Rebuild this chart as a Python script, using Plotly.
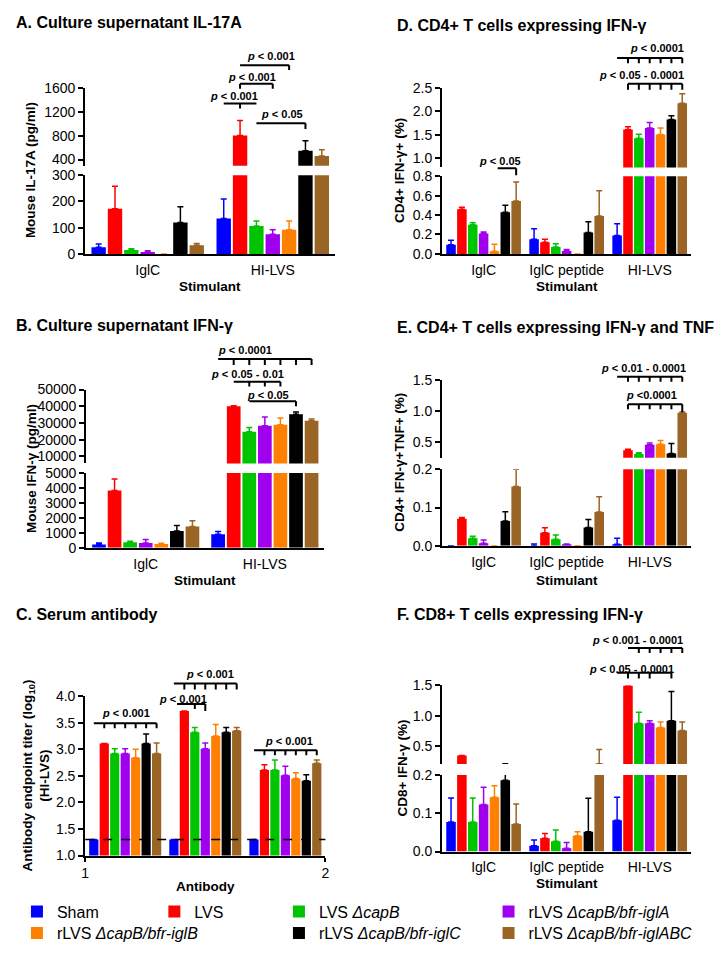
import plotly.graph_objects as go

# ---------------- data ----------------
SERIES = ["Sham", "LVS", "LVS ΔcapB", "rLVS ΔcapB/bfr-iglA", "rLVS ΔcapB/bfr-iglB",
          "rLVS ΔcapB/bfr-iglC", "rLVS ΔcapB/bfr-iglABC"]
LEGEND_LABELS = ["Sham", "LVS", "LVS <i>ΔcapB</i>", "rLVS <i>ΔcapB/bfr-iglA</i>",
                 "rLVS <i>ΔcapB/bfr-iglB</i>", "rLVS <i>ΔcapB/bfr-iglC</i>",
                 "rLVS <i>ΔcapB/bfr-iglABC</i>"]
COLORS = ["#0000FF", "#FF0000", "#00C400", "#A000EE", "#FF8000", "#000000", "#9A6424"]

STIM2 = ["IglC", "HI-LVS"]
STIM3 = ["IglC", "IglC peptide", "HI-LVS"]
ANTIBODY_GROUPS = ["Antibody group 1", "Antibody group 2", "Antibody group 3"]
ANTIBODY_TICKS = ["1", "2"]

# A. IL-17A (pg/ml), mean and upper SEM, order = SERIES
A_IGLC = [25, 172, 15, 7, 0, 120, 33]
A_IGLC_SEM = [13, 86, 5, 5, None, 60, 7]
A_HILVS = [135, 800, 106, 75, 92, 547, 460]
A_HILVS_SEM = [74, 252, 19, 17, 33, 168, 103]

# B. IFN-gamma (pg/ml)
B_IGLC = [230, 3840, 370, 330, 250, 1120, 1430]
B_IGLC_SEM = [100, 760, 70, 220, 50, 370, 390]
B_HILVS = [900, 40000, 24800, 28300, 28900, 35200, 31300]
B_HILVS_SEM = [200, 300, 2500, 5300, 4000, 1400, 1000]

# C. Serum antibody titer (log10)
C_AB1 = [1.3, 3.11, 2.92, 2.92, 2.84, 3.11, 2.92]
C_AB1_SEM = [None, None, 0.09, 0.09, 0.16, 0.18, 0.20]
C_AB2 = [1.3, 3.72, 3.32, 3.01, 3.25, 3.32, 3.35]
C_AB2_SEM = [None, None, 0.09, 0.11, 0.22, 0.09, 0.06]
C_AB3 = [1.3, 2.61, 2.61, 2.51, 2.45, 2.41, 2.74]
C_AB3_SEM = [None, 0.10, 0.19, 0.17, 0.11, 0.11, 0.06]
C_DETECTION_LIMIT = 1.3

# D. CD4+ IFN-g+ (%)
D_IGLC = [0.094, 0.46, 0.30, 0.21, 0.027, 0.43, 0.545]
D_IGLC_SEM = [0.046, 0.02, 0.02, 0.015, 0.073, 0.07, 0.195]
D_PEP = [0.15, 0.12, 0.07, 0.03, 0, 0.22, 0.39]
D_PEP_SEM = [0.11, 0.03, 0.035, 0.015, None, 0.11, 0.26]
D_HILVS = [0.19, 1.61, 1.42, 1.64, 1.50, 1.82, 2.17]
D_HILVS_SEM = [0.12, 0.055, 0.09, 0.12, 0.14, 0.08, 0.20]

# E. CD4+ IFN-g+ TNF+ (%)
E_IGLC = [0, 0.071, 0.02, 0.007, 0, 0.065, 0.155]
E_IGLC_SEM = [None, 0.003, 0.005, 0.008, None, 0.024, 0.045]
E_PEP = [0, 0.034, 0.017, 0.004, 0, 0.048, 0.088]
E_PEP_SEM = [0.005, 0.013, 0.011, 0.001, None, 0.021, 0.040]
E_HILVS = [0.004, 0.36, 0.30, 0.45, 0.46, 0.31, 0.965]
E_HILVS_SEM = [0.016, 0.017, 0.02, 0.03, 0.06, 0.16, 0.015]

# F. CD8+ IFN-g+ (%)
F_IGLC = [0.077, 0.35, 0.077, 0.123, 0.142, 0.186, 0.072]
F_IGLC_SEM = [0.063, None, 0.063, 0.045, 0.03, 0.028, 0.052]
F_PEP = [0.015, 0.035, 0.027, 0.009, 0.041, 0.052, 0.215]
F_PEP_SEM = [0.015, 0.012, 0.029, 0.015, 0.011, 0.087, 0.235]
F_HILVS = [0.082, 1.5, 0.88, 0.88, 0.81, 0.92, 0.76]
F_HILVS_SEM = [0.06, None, 0.18, 0.04, 0.09, 0.48, 0.14]

# ---------------- layout helpers ----------------
PAGE_W, PAGE_H = 722, 959
BODY_MARGIN = 8  # default page margin around the plot div
W, H = PAGE_W - 2 * BODY_MARGIN, PAGE_H - 2 * BODY_MARGIN
FONT = "Liberation Sans, Arial, sans-serif"
BARGAP = 0.085
NSER = len(SERIES)


def fx(p):
    """page pixel x -> paper fraction"""
    return (p - BODY_MARGIN) / W


def fy(p):
    """page pixel y -> paper fraction"""
    return 1 - (p - BODY_MARGIN) / H


def bar_center(g, k):
    w = 1 - BARGAP
    return g - w / 2 + (k + 0.5) * w / NSER


PANELS = [
    dict(x="x", ylo="y", yhi="y2", cats=STIM2,
         vals=[A_IGLC, A_HILVS], sems=[A_IGLC_SEM, A_HILVS_SEM],
         xdom=(82, 335), lodom=(170, 250), lorange=[0, 300], loticks=[0, 100, 200, 300],
         hidom=(81, 160.4), hirange=[295, 1600], hiticks=[400, 800, 1200, 1600], fmt="d"),
    dict(x="x2", ylo="y3", yhi="y4", cats=STIM2,
         vals=[B_IGLC, B_HILVS], sems=[B_IGLC_SEM, B_HILVS_SEM],
         xdom=(83, 324), lodom=(473, 549), lorange=[0, 5000],
         loticks=[0, 1000, 2000, 3000, 4000, 5000],
         hidom=(388, 463.1), hirange=[5800, 50000],
         hiticks=[10000, 20000, 30000, 40000, 50000], fmt="d"),
    dict(x="x3", ylo="y5", yhi=None, cats=ANTIBODY_GROUPS,
         vals=[C_AB1, C_AB2, C_AB3], sems=[C_AB1_SEM, C_AB2_SEM, C_AB3_SEM],
         xdom=(82, 325), lodom=(700, 862), lorange=[1.0, 4.0],
         loticks=[1.0, 1.5, 2.0, 2.5, 3.0, 3.5, 4.0], fmt=".1f"),
    dict(x="x4", ylo="y6", yhi="y7", cats=STIM3,
         vals=[D_IGLC, D_PEP, D_HILVS], sems=[D_IGLC_SEM, D_PEP_SEM, D_HILVS_SEM],
         xdom=(443, 695), lodom=(171, 250), lorange=[0, 0.8], loticks=[0, 0.2, 0.4, 0.6, 0.8],
         hidom=(81, 162), hirange=[0.8, 2.5], hiticks=[1.0, 1.5, 2.0, 2.5], fmt=".1f"),
    dict(x="x5", ylo="y8", yhi="y9", cats=STIM3,
         vals=[E_IGLC, E_PEP, E_HILVS], sems=[E_IGLC_SEM, E_PEP_SEM, E_HILVS_SEM],
         xdom=(443, 695), lodom=(469, 547), lorange=[0, 0.2], loticks=[0, 0.1, 0.2],
         hidom=(378, 457.4), hirange=[0.24, 1.5], hiticks=[0.5, 1.0, 1.5], fmt=".1f"),
    dict(x="x6", ylo="y10", yhi="y11", cats=STIM3,
         vals=[F_IGLC, F_PEP, F_HILVS], sems=[F_IGLC_SEM, F_PEP_SEM, F_HILVS_SEM],
         xdom=(443, 695), lodom=(780, 858), lorange=[0, 0.2], loticks=[0, 0.1, 0.2],
         hidom=(689, 769), hirange=[0.21, 1.5], hiticks=[0.5, 1.0, 1.5], fmt=".1f"),
]


def axkey(ref):
    return ref[0] + "axis" + ref[1:]


fig = go.Figure()
layout = dict(
    width=W, height=H, autosize=False,
    margin=dict(l=0, r=0, t=0, b=0),
    paper_bgcolor="white", plot_bgcolor="white",
    barmode="group", bargap=BARGAP, bargroupgap=0.12,
    font=dict(family=FONT, size=14, color="black"),
)

legend_ids = ["legend"] + ["legend%d" % (i + 1) for i in range(1, NSER)]

for pi, p in enumerate(PANELS):
    ncat = len(p["cats"])
    yrefs = [p["ylo"]] + ([p["yhi"]] if p["yhi"] else [])
    for yi, yref in enumerate(yrefs):
        for k in range(NSER):
            ys = [p["vals"][g][k] for g in range(ncat)]
            es = [p["sems"][g][k] for g in range(ncat)]
            show = (pi == 0 and yi == 0)
            fig.add_trace(go.Bar(
                x=p["cats"], y=ys, name=LEGEND_LABELS[k],
                marker=dict(color=COLORS[k], line=dict(width=0)),
                error_y=dict(type="data", array=es, arrayminus=[0] * ncat, symmetric=False,
                             color=COLORS[k], thickness=1.5, width=3),
                xaxis=p["x"], yaxis=yref, showlegend=show, legend=legend_ids[k],
                legendgroup=SERIES[k], hoverinfo="skip"))

    # x axis
    xa = dict(domain=[fx(p["xdom"][0]), fx(p["xdom"][1])], anchor=p["ylo"], type="category",
              categoryorder="array", categoryarray=p["cats"],
              showline=True, linecolor="black", linewidth=2, showgrid=False, zeroline=False,
              ticks="", ticklabelstandoff=2, tickfont=dict(size=14), fixedrange=True,
              range=[-0.5, ncat - 0.5])
    if p["x"] == "x3":
        xa.update(tickmode="array", tickvals=[-0.5, ncat - 0.5], ticktext=ANTIBODY_TICKS,
                  ticks="outside", ticklen=4, tickwidth=2, tickcolor="black", ticklabelstandoff=0)
    layout[axkey(p["x"])] = xa

    def yax(dom, rng, ticks):
        return dict(domain=[fy(dom[1]), fy(dom[0])], anchor=p["x"], range=rng,
                    tickmode="array", tickvals=ticks, tickformat=p["fmt"],
                    showline=True, linecolor="black", linewidth=2, showgrid=False, zeroline=False,
                    ticks="outside", ticklen=5, tickwidth=2, tickcolor="black",
                    tickfont=dict(size=14), fixedrange=True)

    layout[axkey(p["ylo"])] = yax(p["lodom"], p["lorange"], p["loticks"])
    if p["yhi"]:
        layout[axkey(p["yhi"])] = yax(p["hidom"], p["hirange"], p["hiticks"])

# ---------------- legends ----------------
LEGEND_POS = [(13, 919), (152, 919), (278, 919), (490, 919),
              (13, 941), (278, 941), (490, 941)]
for k, (lx, ly) in enumerate(LEGEND_POS):
    layout[legend_ids[k]] = dict(x=fx(lx), y=fy(ly), xanchor="left", yanchor="middle",
                                 orientation="v", bgcolor="rgba(0,0,0,0)", borderwidth=0,
                                 font=dict(family=FONT, size=16, color="black"))

# ---------------- annotations ----------------
annotations = []
shapes = []

TITLES = [("A. Culture supernatant IL-17A", 10, 15), ("B. Culture supernatant IFN-γ", 10, 323),
          ("C. Serum antibody", 10, 617), ("D. CD4+ T cells expressing IFN-γ", 395, 18),
          ("E. CD4+ T cells expressing IFN-γ and TNF", 395, 325),
          ("F. CD8+ T cells expressing IFN-γ", 395, 617)]
for t, x, y in TITLES:
    annotations.append(dict(text="<b>%s</b>" % t, x=fx(x), y=fy(y), xref="paper", yref="paper",
                            xanchor="left", yanchor="middle", showarrow=False,
                            font=dict(size=16, family=FONT)))

YTITLES = [("Mouse IL-17A (pg/ml)", 27, 165), ("Mouse IFN-γ (pg/ml)", 27, 468),
           ("Antibody endpoint titer (log<sub>10</sub>)<br>(HI-LVS)", 33, 781),
           ("CD4+ IFN-γ+ (%)", 400, 165), ("CD4+ IFN-γ+TNF+ (%)", 400, 462),
           ("CD8+ IFN-γ (%)", 402, 773)]
for t, x, y in YTITLES:
    annotations.append(dict(text="<b>%s</b>" % t, x=fx(x), y=fy(y), xref="paper", yref="paper",
                            xanchor="center", yanchor="middle", textangle=-90, showarrow=False,
                            font=dict(size=13.5, family=FONT)))

XTITLES = [("Stimulant", 0, 283), ("Stimulant", 1, 582), ("Antibody", 2, 894),
           ("Stimulant", 3, 283), ("Stimulant", 4, 582), ("Stimulant", 5, 890)]
for t, pi, y in XTITLES:
    d = PANELS[pi]["xdom"]
    annotations.append(dict(text="<b>%s</b>" % t, x=fx((d[0] + d[1]) / 2), y=fy(y),
                            xref="paper", yref="paper", xanchor="center", yanchor="middle",
                            showarrow=False, font=dict(size=13.5, family=FONT)))

# significance brackets:
# (panel, group, k_from, k_to, line_y_px, [(k, tick_bottom_px)], text, text_k, text_y_px)
BRACKETS = [
    (0, 1, 0, 2, 97, [(1, 102)], "p &lt; 0.001", 0.65, 89),
    (0, 1, 1, 3, 77, [(1, 82), (3, 82)], "p &lt; 0.001", 1.75, 70),
    (0, 1, 1, 4, 58, [(4, 63)], "p &lt; 0.001", 2.9, 49),
    (0, 1, 2, 5, 117, [(5, 123)], "p &lt; 0.05", 3.55, 108),
    (1, 1, 0, 6, 357, [(k, 363) for k in range(1, 7)], "p &lt; 0.0001", 1.7, 348),
    (1, 1, 1, 4, 380, [(k, 385) for k in range(2, 5)], "p &lt; 0.05 - 0.01", 1.9, 372),
    (1, 1, 2, 5, 400, [(5, 405)], "p &lt; 0.05", 3.2, 394),
    (2, 0, 0, 6, 727.5, [(k, 732.5) for k in range(1, 7)], "p &lt; 0.001", 3.1, 717),
    (2, 1, 0, 6, 687, [(k, 693) for k in range(1, 7)], "p &lt; 0.001", 3.45, 677),
    (2, 1, 0.3, 3, 708, [(2, 713), (3, 715)], "p &lt; 0.001", 0.9, 703),
    (2, 2, 0, 6, 755, [(k, 760) for k in range(1, 7)], "p &lt; 0.001", 3.3, 746),
    (3, 2, 0, 6, 50.7, [(k, 56) for k in range(1, 7)], "p &lt; 0.0001", 3.7, 41),
    (3, 2, 1, 6, 77, [(k, 83) for k in range(1, 7)], "p &lt; 0.05 - 0.0001", 2.2, 68),
    (3, 0, 4.3, 6, 163, [(6, 170)], "p &lt; 0.05", 4.5, 156),
    (4, 2, 0, 6, 375, [(k, 380) for k in range(1, 7)], "p &lt; 0.01 - 0.0001", 2.4, 366),
    (4, 2, 1, 6, 403, [(k, 408) for k in range(1, 6)] + [(6, 411)], "p &lt;0.0001", 3.2, 394),
    (5, 2, 1, 6, 651, [(k, 656) for k in range(2, 7)], "p &lt; 0.001 - 0.0001", 1.9, 643),
    (5, 2, 0, 5, 676, [(1, 682), (2, 682), (3, 682), (5, 682)], "p &lt; 0.05 - 0.0001", 1.3, 672),
]
for pi, g, k0, k1, ly, ticks, txt, tk, ty in BRACKETS:
    xr = PANELS[pi]["x"]
    shapes.append(dict(type="line", xref=xr, yref="paper", x0=bar_center(g, k0), x1=bar_center(g, k1),
                       y0=fy(ly), y1=fy(ly), line=dict(color="black", width=2)))
    for k, yb in ticks:
        shapes.append(dict(type="line", xref=xr, yref="paper", x0=bar_center(g, k), x1=bar_center(g, k),
                           y0=fy(ly), y1=fy(yb), line=dict(color="black", width=2)))
    p_txt = txt.replace("p ", "<i>p</i> ", 1)
    annotations.append(dict(text="<b>%s</b>" % p_txt, x=bar_center(g, tk), y=fy(ty), xref=xr,
                            yref="paper", xanchor="center", yanchor="middle", showarrow=False,
                            font=dict(size=11, family=FONT)))

# detection limit line in C
shapes.append(dict(type="line", xref="x3 domain", yref="y5", x0=0, x1=1,
                   y0=C_DETECTION_LIMIT, y1=C_DETECTION_LIMIT,
                   line=dict(color="black", width=1.5, dash="dash")))

layout["annotations"] = annotations
layout["shapes"] = shapes
fig.update_layout(**layout)
fig.write_html("out.html")
